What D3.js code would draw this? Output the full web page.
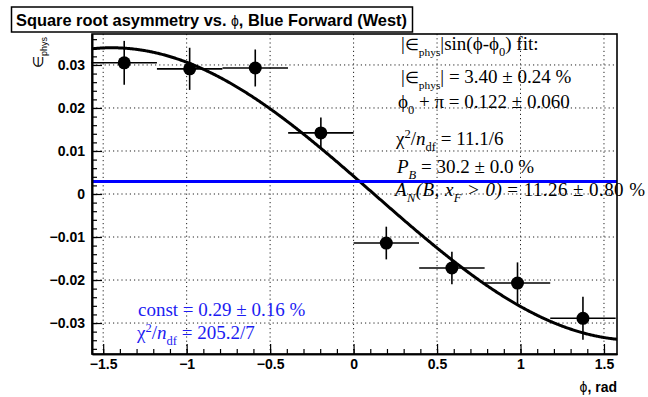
<!DOCTYPE html>
<html>
<head>
<meta charset="utf-8">
<script src="https://cdn.jsdelivr.net/npm/d3@7"></script>
<style>
  html, body { margin: 0; padding: 0; background: #fff; }
  svg { display: block; }
</style>
</head>
<body>
<svg id="chart" width="648" height="397"></svg>
<script>
// Measured square-root asymmetry per phi bin (8 bins over [-pi/2, pi/2])
const phiCenters = [-1.374, -0.982, -0.589, -0.196, 0.196, 0.589, 0.982, 1.374];
const phiHalfWidths = [0.196, 0.196, 0.196, 0.196, 0.196, 0.196, 0.196, 0.196];
const asymValues = [0.0305, 0.0291, 0.0293, 0.0142, -0.0114, -0.0172, -0.0207, -0.0289];
const asymErrors = [0.0051, 0.0049, 0.0043, 0.0036, 0.0038, 0.0038, 0.0048, 0.0050];

// Fit results: |eps_phys| sin(phi - phi0), with phi0 + pi = 0.122, and a constant fit
const fitAmplitude = 0.0340;
const fitPhasePlusPi = 0.122;
const constFit = 0.0029;

// Axis ticks
const xTicks = [-1.5, -1, -0.5, 0, 0.5, 1, 1.5];
const xTickLabels = ["\u22121.5", "\u22121", "\u22120.5", "0", "0.5", "1", "1.5"];
const yTicks = [-0.03, -0.02, -0.01, 0, 0.01, 0.02, 0.03];
const yTickLabels = ["\u22120.03", "\u22120.02", "\u22120.01", "0", "0.01", "0.02", "0.03"];

const svg = d3.select("#chart");
const L = 92, R = 617, T = 34, B = 354;

const x = d3.scaleLinear().domain([-1.567, 1.578]).range([L, R]);
const y = d3.scaleLinear().domain([-0.0372, 0.0372]).range([B, T]);

const sans = "'Liberation Sans', Arial, Helvetica, sans-serif";
const serif = "'Liberation Serif', 'Times New Roman', serif";

// Title box
svg.append("rect").attr("x", 11.5).attr("y", 7).attr("width", 401).attr("height", 25)
  .attr("fill", "#fff").attr("stroke", "#000").attr("stroke-width", 1.5);
const title = svg.append("text").attr("x", 16).attr("y", 26)
  .style("font-family", sans).style("font-size", "16.4px").style("font-weight", "bold");
title.append("tspan").text("Square root asymmetry vs. ");
title.append("tspan").style("font-weight", "normal").style("font-size", "14px").text("\u03D5");
title.append("tspan").text(", Blue Forward (West)");

// Grid
const grid = svg.append("g").attr("stroke", "#222").attr("stroke-width", 1)
  .attr("stroke-dasharray", "1.2,3").attr("fill", "none");
grid.selectAll("line.gx").data(xTicks).join("line")
  .attr("x1", d => x(d)).attr("x2", d => x(d)).attr("y1", T).attr("y2", B);
grid.selectAll("line.gy").data(yTicks).join("line")
  .attr("x1", L).attr("x2", R).attr("y1", d => y(d)).attr("y2", d => y(d));

// Fit curve
const phi0 = fitPhasePlusPi - Math.PI;
const curvePhi = d3.range(x.domain()[0], x.domain()[1] + 1e-9, 0.005);
svg.append("path")
  .datum(curvePhi)
  .attr("fill", "none").attr("stroke", "#000").attr("stroke-width", 3)
  .attr("d", d3.line().x(d => x(d)).y(d => y(fitAmplitude * Math.sin(d - phi0))));

// Constant fit
svg.append("line").attr("x1", L).attr("x2", R)
  .attr("y1", y(constFit)).attr("y2", y(constFit))
  .attr("stroke", "#0000ff").attr("stroke-width", 3);

// Data points with error bars
const pts = phiCenters.map((p, i) => ({ p, w: phiHalfWidths[i], v: asymValues[i], e: asymErrors[i] }));
const pg = svg.append("g");
pg.selectAll("line.ex").data(pts).join("line")
  .attr("x1", d => x(d.p - d.w)).attr("x2", d => x(d.p + d.w))
  .attr("y1", d => y(d.v)).attr("y2", d => y(d.v))
  .attr("stroke", "#000").attr("stroke-width", 1.6);
pg.selectAll("line.ey").data(pts).join("line")
  .attr("x1", d => x(d.p)).attr("x2", d => x(d.p))
  .attr("y1", d => y(d.v - d.e)).attr("y2", d => y(d.v + d.e))
  .attr("stroke", "#000").attr("stroke-width", 1.6);
pg.selectAll("circle").data(pts).join("circle")
  .attr("cx", d => x(d.p)).attr("cy", d => y(d.v)).attr("r", 6.5).attr("fill", "#000");

// Rich text helper: parts = [{t, sub, sup, i, s}]
function rich(parent, px, py, parts, size, family, color) {
  const t = parent.append("text").attr("x", px).attr("y", py)
    .style("font-family", family).style("font-size", size + "px").attr("fill", color || "#000");
  let shift = 0;
  parts.forEach(p => {
    const target = p.sub ? size * 0.3 : p.sup ? -size * 0.36 : 0;
    const ts = t.append("tspan").attr("dy", target - shift).text(p.t);
    if (p.sub || p.sup) ts.style("font-size", (size * 0.66) + "px");
    if (p.s) ts.style("font-size", (size * p.s) + "px");
    if (p.i) ts.style("font-style", "italic");
    shift = target;
  });
  return t;
}

// Fit statistics
const fs = 19;
const leg = svg.append("g");
rich(leg, 401, 50, [{t: "|"}, {t: "\u2208", s: 0.85}, {t: "phys", sub: true, s: 0.6}, {t: "|sin(\u03D5-\u03D5"}, {t: "0", sub: true}, {t: ") fit:"}], fs, serif);
rich(leg, 401, 83, [{t: "|"}, {t: "\u2208", s: 0.85}, {t: "phys", sub: true, s: 0.6}, {t: "| = 3.40 \u00B1 0.24 %"}], fs, serif);
rich(leg, 398, 108, [{t: "\u03D5"}, {t: "0", sub: true}, {t: " + \u03C0 = 0.122 \u00B1 0.060"}], fs, serif);
rich(leg, 396, 145, [{t: "\u03C7"}, {t: "2", sup: true}, {t: "/"}, {t: "n", i: true}, {t: "df", sub: true}, {t: " = 11.1/6"}], fs, serif);
rich(leg, 397, 173, [{t: "P", i: true}, {t: "B", sub: true, i: true}, {t: " = 30.2 \u00B1 0.0 %"}], fs, serif);
rich(leg, 395, 196, [{t: "A", i: true}, {t: "N", sub: true, i: true}, {t: "(", i: true}, {t: "B", i: true}, {t: ", ", i: true}, {t: "x", i: true}, {t: "F", sub: true, i: true}, {t: " > 0)", i: true}, {t: " = 11.26 \u00B1 0.80 %"}], fs, serif)
  .attr("textLength", 250).attr("lengthAdjust", "spacing");

// Constant-fit statistics
rich(svg, 138, 316, [{t: "const = 0.29 \u00B1 0.16 %"}], fs, serif, "#1c1cf2");
rich(svg, 137, 339, [{t: "\u03C7"}, {t: "2", sup: true}, {t: "/"}, {t: "n", i: true}, {t: "df", sub: true}, {t: " = 205.2/7"}], fs, serif, "#1c1cf2");

// Axes
const xMinor = d3.range(-15, 16).map(d => d / 10);
const yMinor = d3.range(-18, 19).map(d => d * 0.002);

const xAxisMajor = d3.axisBottom(x).tickValues(xTicks).tickSizeInner(-10).tickSizeOuter(0).tickPadding(5)
  .tickFormat((d, i) => xTickLabels[i]);
const xAxisMinor = d3.axisBottom(x).tickValues(xMinor).tickSizeInner(-5).tickSizeOuter(0).tickFormat("");
const yAxisMajor = d3.axisLeft(y).tickValues(yTicks).tickSizeInner(-10).tickSizeOuter(0).tickPadding(7)
  .tickFormat((d, i) => yTickLabels[i]);
const yAxisMinor = d3.axisLeft(y).tickValues(yMinor).tickSizeInner(-5).tickSizeOuter(0).tickFormat("");

function styleAxis(g) {
  g.selectAll("path.domain").attr("stroke", "#000").attr("stroke-width", 1.6);
  g.selectAll(".tick line").attr("stroke", "#000").attr("stroke-width", 1.2);
  g.selectAll(".tick text").style("font-family", sans).style("font-size", "14px")
    .style("font-weight", "bold").attr("fill", "#000");
}
svg.append("g").attr("transform", `translate(0,${B})`).call(xAxisMinor).call(styleAxis);
svg.append("g").attr("transform", `translate(0,${B})`).call(xAxisMajor).call(styleAxis);
svg.append("g").attr("transform", `translate(${L},0)`).call(yAxisMinor).call(styleAxis);
svg.append("g").attr("transform", `translate(${L},0)`).call(yAxisMajor).call(styleAxis);

// Frame
svg.append("rect").attr("x", L).attr("y", T).attr("width", R - L).attr("height", B - T)
  .attr("fill", "none").attr("stroke", "#000").attr("stroke-width", 1.6);

// Axis titles
const xt = svg.append("text").attr("x", R).attr("y", 392).attr("text-anchor", "end")
  .style("font-family", sans).style("font-size", "14px").style("font-weight", "bold");
xt.append("tspan").style("font-weight", "normal").text("\u03D5");
xt.append("tspan").text(", rad");

const yt = svg.append("text").attr("transform", "translate(43,37) rotate(-90)")
  .attr("text-anchor", "end").style("font-family", sans).style("font-size", "14px");
yt.append("tspan").text("\u2208");
yt.append("tspan").attr("dy", 4).style("font-size", "9px").text("phys");
</script>
</body>
</html>
